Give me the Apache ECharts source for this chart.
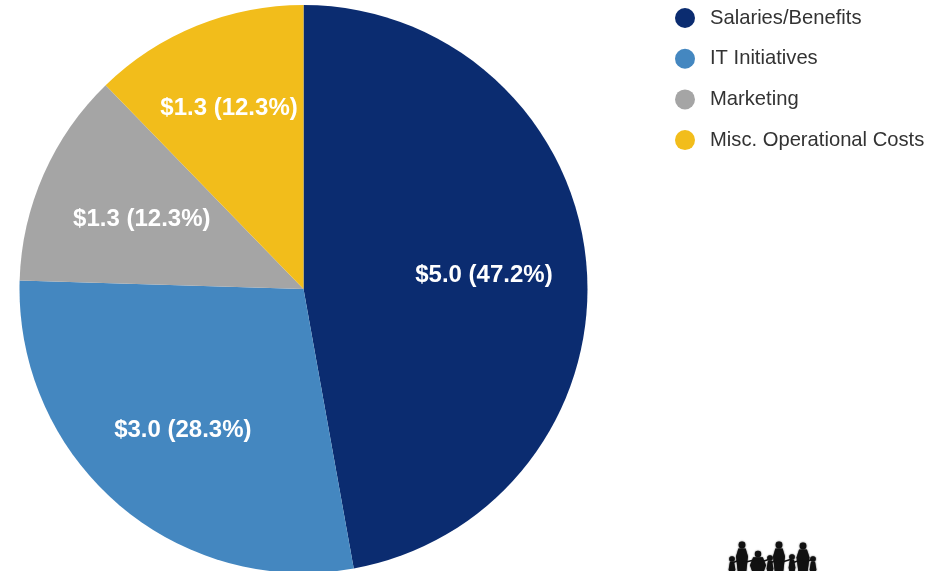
<!DOCTYPE html>
<html><head><meta charset="utf-8">
<style>html,body{margin:0;padding:0;background:#fff}#c{width:931px;height:571px}</style>
<script src="https://cdn.jsdelivr.net/npm/echarts@6/dist/echarts.min.js"></script>
</head><body><div id="c"></div>
<script>
const categories=["Salaries/Benefits","IT Initiatives","Marketing","Misc. Operational Costs"];
const values=[5.0,3.0,1.3,1.3];
const percents=["47.2","28.3","12.3","12.3"];
const colors=["#0b2c70","#4487c0","#a5a5a5","#f2bd1b"];
const labelShift=[[36,-1],[-26,32],[-29,-11],[-20,-46]];
// small family logo at the bottom edge: [x, head y, head radius, body half-width]
const people=[[732,559,2.8,3.4],[742,545,3.4,6],[758,554,3.2,8],[770,558,2.8,3.4],[779,545,3.4,6],[792,557,2.8,3.4],[803,546,3.4,6.5],[813,559,2.8,3.4]];
const logo=[];
const ink={fill:'#111',shadowBlur:1.5,shadowColor:'#111'};
people.forEach(([x,y,r,w])=>{
  logo.push({type:'circle',shape:{cx:x,cy:y,r:r},style:ink});
  logo.push({type:'polygon',shape:{points:[[x-w*0.6,y+r],[x+w*0.6,y+r],[x+w,y+r+8],[x+w*0.7,572],[x-w*0.7,572],[x-w,y+r+8]]},style:ink});
});
[[732,742],[742,758],[758,770],[770,779],[779,792],[792,803],[803,813]].forEach(([a,b])=>{
  logo.push({type:'line',shape:{x1:a,y1:563,x2:b,y2:559},style:{stroke:'#111',lineWidth:1.5}});
});
const chart=echarts.init(document.getElementById('c'),null,{renderer:'canvas'});
chart.setOption({
  animation:false,
  legend:{orient:'vertical',left:670,top:3,itemGap:20.7,itemWidth:20,itemHeight:20,icon:'circle',
    textStyle:{fontFamily:'Liberation Sans',fontSize:20.2,color:'#333',padding:[0,0,0,10]},data:categories},
  graphic:logo,
  series:[{type:'pie',center:[303.5,289],radius:284,startAngle:90,clockwise:true,
    data:categories.map((n,i)=>({name:n,value:values[i],itemStyle:{color:colors[i]}})),
    label:{position:'inside',formatter:p=>'$'+values[p.dataIndex].toFixed(1)+' ('+percents[p.dataIndex]+'%)',
      color:'#fff',fontFamily:'Liberation Sans',fontSize:24,fontWeight:'bold',textBorderWidth:0},
    labelLayout:p=>({dx:labelShift[p.dataIndex][0],dy:labelShift[p.dataIndex][1]}),
    labelLine:{show:false}}]
});
</script></body></html>
